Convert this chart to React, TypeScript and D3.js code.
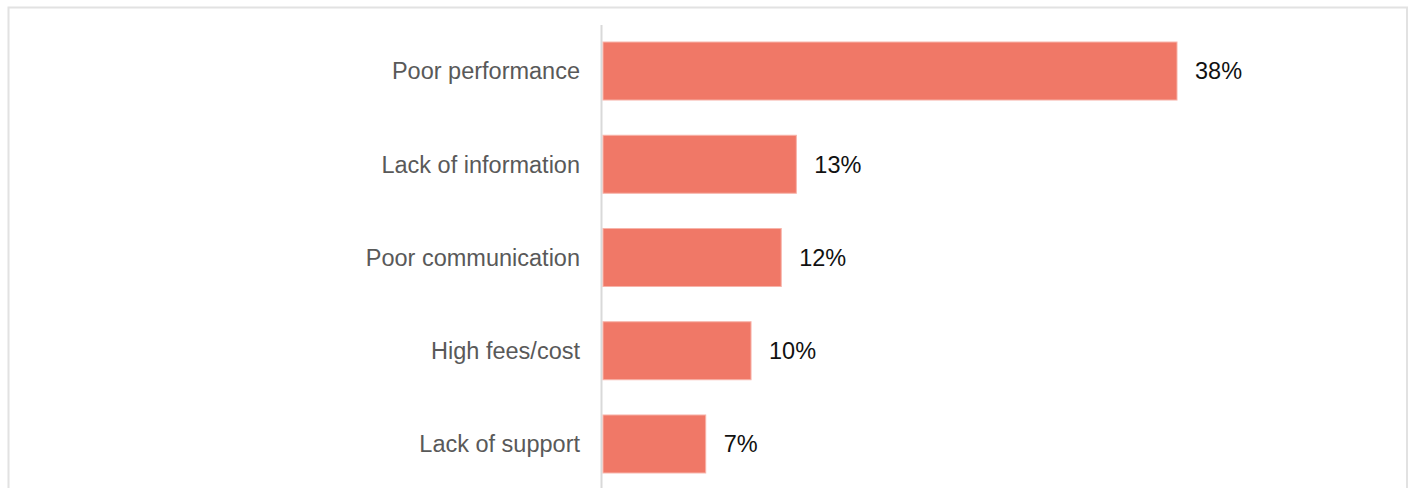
import React from "react";
import * as d3 from "d3";

const categories = [
  "Poor performance",
  "Lack of information",
  "Poor communication",
  "High fees/cost",
  "Lack of support",
];
const values = [38.0, 12.8, 11.8, 9.8, 6.8];

const W = 1410;
const H = 488;
const axisX = 601.5;

const App = () => {
  const x = d3.scaleLinear().domain([0, 38]).range([603, 1177]);
  const y = d3
    .scaleBand<string>()
    .domain(categories)
    .range([24.4, 490.6])
    .paddingInner(0.378)
    .paddingOuter(0.189);

  return (
    <svg
      width={W}
      height={H}
      style={{position: "absolute", left: 0, top: 0, background: "#fff"}}
      fontFamily="Arial, 'Liberation Sans', sans-serif"
    >
      <rect x={8.5} y={7.5} width={1398.5} height={520} fill="none" stroke="#e2e2e2" strokeWidth={2}/>
      <line x1={axisX} x2={axisX} y1={25} y2={H} stroke="#d9d9d9" strokeWidth={2}/>
      {categories.map((c, i) => {
        const by = y(c)!;
        const bh = y.bandwidth();
        const cy = by + bh / 2;
        return (
          <g key={c}>
            <rect
              x={x(0)}
              y={by}
              width={x(values[i]) - x(0)}
              height={bh}
              fill="#f07867"
              stroke="#f7b3a9"
              strokeWidth={1}
            />
            <text
              x={580}
              y={cy}
              dy="0.36em"
              textAnchor="end"
              fontSize={23.5}
              fill="#595959"
            >
              {c}
            </text>
            <text
              x={x(values[i]) + 18}
              y={cy}
              dy="0.36em"
              fontSize={23.5}
              fill="#111"
            >
              {`${Math.round(values[i])}%`}
            </text>
          </g>
        );
      })}
    </svg>
  );
};

export default App;
